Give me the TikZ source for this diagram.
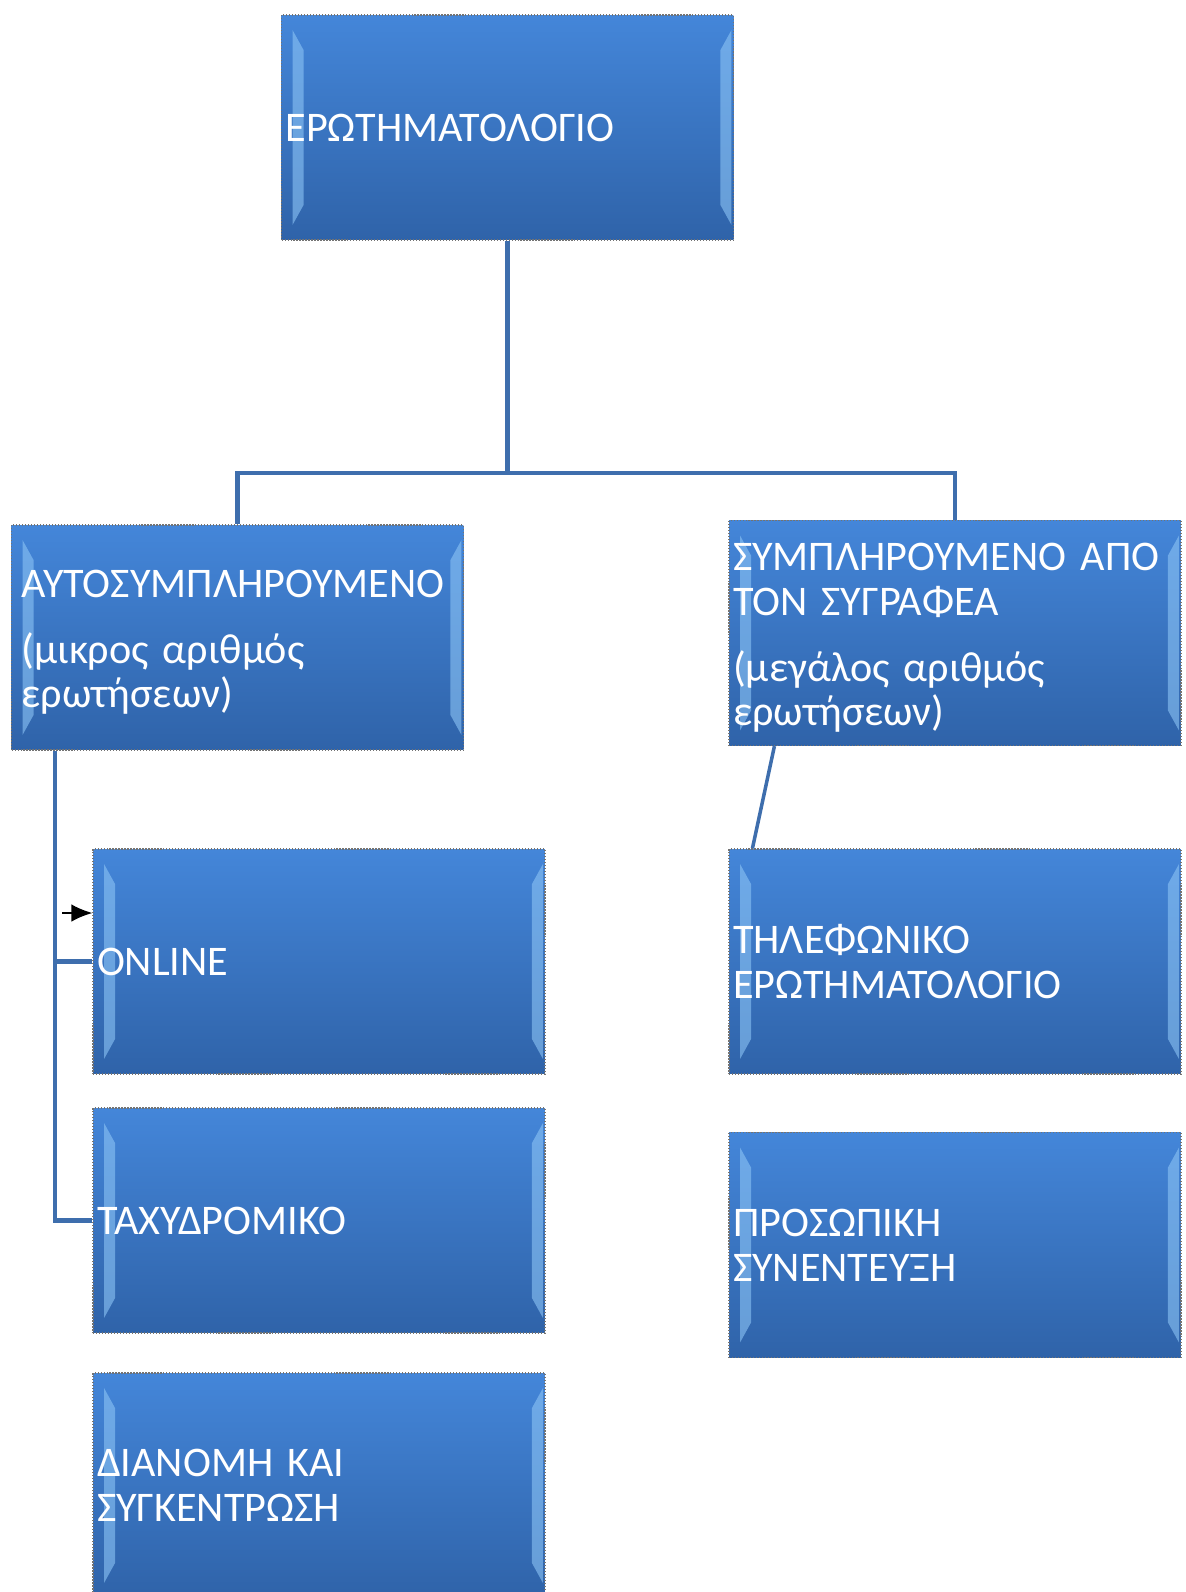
\documentclass[tikz,border=0pt]{standalone}
\usepackage{fontspec}
\setmainfont{Carlito}
\usetikzlibrary{arrows.meta}
\definecolor{BoxTop}{HTML}{4486D9}
\definecolor{BoxBot}{HTML}{2F63A9}
\definecolor{BoxLite}{HTML}{8CC4F5}
\definecolor{LinkBlue}{HTML}{3E6EAD}
\tikzset{
  qbox/.style={rectangle,minimum width=9.04cm,minimum height=4.5cm,text width=8.88cm,
    inner xsep=0.08cm,inner ysep=0pt,align=left,text=white,
    font=\fontsize{24}{25.5}\selectfont,top color=BoxTop,bottom color=BoxBot,
    draw=black!55,densely dotted,line width=0.7pt,
    path picture={
      \fill[BoxLite,opacity=0.6] ([shift={(0.22cm,-0.3cm)}]path picture bounding box.north west)
        -- ([shift={(0.44cm,-0.7cm)}]path picture bounding box.north west)
        -- ([shift={(0.44cm,0.7cm)}]path picture bounding box.south west)
        -- ([shift={(0.22cm,0.3cm)}]path picture bounding box.south west) -- cycle;
      \fill[BoxLite,opacity=0.6] ([shift={(-0.04cm,-0.3cm)}]path picture bounding box.north east)
        -- ([shift={(-0.26cm,-0.7cm)}]path picture bounding box.north east)
        -- ([shift={(-0.26cm,0.7cm)}]path picture bounding box.south east)
        -- ([shift={(-0.04cm,0.3cm)}]path picture bounding box.south east) -- cycle;
    }},
  conn/.style={draw=LinkBlue,line width=2.6pt}
}
\begin{document}
\begin{tikzpicture}[x=0.02cm,y=-0.02cm]
  \useasboundingbox (0,0) rectangle (1186,1592);
  \node[qbox] (top) at (507.5,127.5) {ΕΡΩΤΗΜΑΤΟΛΟΓΙΟ};
  \node[qbox,inner xsep=0.2cm,text width=8.64cm] (auto) at (237.5,637.5) {\rule{0pt}{21pt}ΑΥΤΟΣΥΜΠΛΗΡΟΥΜΕΝΟ\\[12pt](μικρος αριθμός\\ερωτήσεων)};
  \node[qbox] (sygr) at (955,633) {\rule{0pt}{21pt}ΣΥΜΠΛΗΡΟΥΜΕΝΟ ΑΠΟ\\ΤΟΝ ΣΥΓΡΑΦΕΑ\\[12pt](μεγάλος αριθμός\\ερωτήσεων)};
  \node[qbox] (online) at (319,961.5) {ONLINE};
  \node[qbox] (tax) at (319,1220.5) {ΤΑΧΥΔΡΟΜΙΚΟ};
  \node[qbox] (dian) at (319,1485.5) {ΔΙΑΝΟΜΗ ΚΑΙ\\ΣΥΓΚΕΝΤΡΩΣΗ};
  \node[qbox] (tilef) at (955,961.5) {ΤΗΛΕΦΩΝΙΚΟ\\ΕΡΩΤΗΜΑΤΟΛΟΓΙΟ};
  \node[qbox] (pros) at (955,1245) {ΠΡΟΣΩΠΙΚΗ\\ΣΥΝΕΝΤΕΥΞΗ};
  \coordinate (split) at (507.5,473);
  \draw[conn] (top.south) -- (split) -| (auto.north);
  \draw[conn] (split) -| (sygr.north);
  \coordinate (abus) at ([xshift=0.88cm]auto.south west);
  \draw[conn] (abus) |- (tax.west);
  \draw[conn] (abus |- online.west) -- (online.west);
  \coordinate (stray) at (62,913);
  \draw[-{Latex[length=12pt,width=10pt]},line width=1pt] (stray) -- (stray -| online.west);
  \draw[conn,line width=2pt] ([xshift=0.92cm]sygr.south west) -- ([xshift=0.48cm]tilef.north west);
\end{tikzpicture}
\end{document}
